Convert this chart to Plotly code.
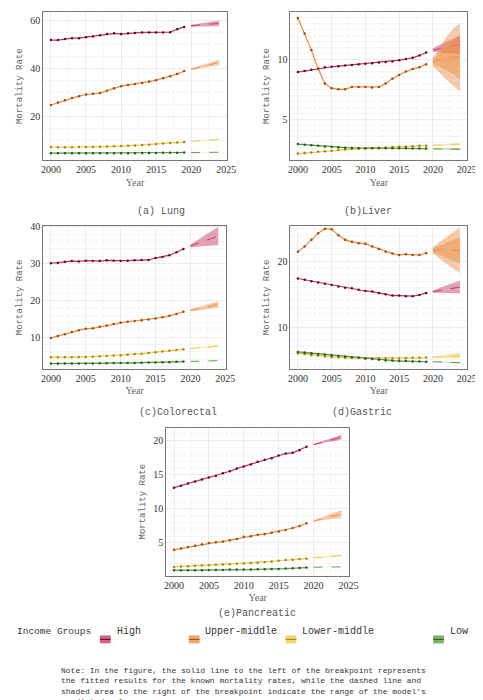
import plotly.graph_objects as go

YEARS = list(range(2000, 2020))
FYEARS = list(range(2020, 2025))
GROUPS = ["High", "Upper-middle", "Lower-middle", "Low"]
COLORS = {"High": "#c4305a", "Upper-middle": "#ec8a3e", "Lower-middle": "#e9c83e", "Low": "#4f9a3c"}
DOTS = {"High": "#5a1020", "Upper-middle": "#a04a10", "Lower-middle": "#a08a10", "Low": "#2a5a20"}

# fitted values 2000-2019, forecast mid 2020-2024, forecast half-widths (outer), inner half-widths
LUNG = {
    "High": [52.0,52.0,52.4,52.8,52.8,53.2,53.5,54.0,54.5,54.8,54.5,54.8,55.0,55.2,55.2,55.2,55.2,55.3,56.5,57.5],
    "Upper-middle": [24.8,25.8,26.8,27.7,28.5,29.2,29.5,29.8,30.8,31.8,32.7,33.2,33.6,34.0,34.6,35.2,36.0,36.8,37.8,39.0],
    "Lower-middle": [7.2,7.1,7.1,7.1,7.2,7.2,7.2,7.3,7.4,7.5,7.6,7.7,7.8,8.0,8.2,8.5,8.7,8.9,9.1,9.3],
    "Low": [4.6,4.6,4.6,4.6,4.6,4.6,4.6,4.6,4.6,4.6,4.6,4.6,4.6,4.7,4.7,4.7,4.8,4.8,4.8,4.9],
}
LUNG_F = {"High": [58.0,58.3,58.6,58.8,59.0], "Upper-middle": [39.8,40.5,41.3,42.0,42.7],
          "Lower-middle": [9.6,9.8,10.0,10.2,10.4], "Low": [4.9,4.9,4.9,5.0,5.0]}
LUNG_W = {"High": [0.4,0.6,0.8,1.0,1.2], "Upper-middle": [0.3,0.5,0.7,0.9,1.1],
          "Lower-middle": [0.05,0.1,0.1,0.15,0.2], "Low": [0.03,0.05,0.05,0.07,0.08]}

LIVER = {
    "High": [8.95,9.05,9.15,9.25,9.35,9.4,9.45,9.5,9.55,9.6,9.65,9.7,9.75,9.8,9.85,9.95,10.05,10.15,10.35,10.6],
    "Upper-middle": [13.5,12.2,10.8,9.2,8.0,7.6,7.5,7.5,7.7,7.7,7.7,7.65,7.7,8.0,8.4,8.7,9.0,9.2,9.35,9.6],
    "Lower-middle": [2.1,2.15,2.2,2.25,2.3,2.35,2.4,2.45,2.5,2.52,2.55,2.57,2.6,2.62,2.65,2.68,2.7,2.72,2.75,2.77],
    "Low": [2.9,2.85,2.8,2.75,2.7,2.67,2.63,2.6,2.58,2.56,2.55,2.55,2.55,2.55,2.55,2.55,2.54,2.53,2.52,2.52],
}
LIVER_F = {"High": [10.8,10.95,11.05,11.15,11.25], "Upper-middle": [9.8,10.0,10.1,10.2,10.2],
           "Lower-middle": [2.8,2.82,2.85,2.87,2.9], "Low": [2.5,2.5,2.49,2.48,2.47]}
LIVER_W = {"High": [0.15,0.3,0.45,0.6,0.75], "Upper-middle": [0.4,1.1,1.8,2.4,2.9],
           "Lower-middle": [0.03,0.05,0.07,0.08,0.1], "Low": [0.03,0.04,0.05,0.06,0.07]}
LIVER_WI = {"Upper-middle": [0.2,0.6,1.0,1.4,1.8]}

COLO = {
    "High": [30.1,30.2,30.5,30.7,30.6,30.8,30.7,30.7,30.9,30.8,30.7,30.8,30.9,31.0,31.0,31.5,31.8,32.3,33.1,34.0],
    "Upper-middle": [9.8,10.3,10.8,11.4,11.9,12.3,12.4,12.8,13.2,13.6,14.0,14.2,14.4,14.6,14.8,15.1,15.4,15.8,16.3,16.9],
    "Lower-middle": [4.5,4.5,4.5,4.5,4.6,4.6,4.7,4.8,4.9,5.0,5.0,5.2,5.4,5.5,5.7,5.9,6.1,6.3,6.5,6.7],
    "Low": [2.8,2.8,2.8,2.8,2.8,2.8,2.85,2.9,2.9,2.95,3.0,3.0,3.0,3.05,3.1,3.1,3.15,3.2,3.3,3.35],
}
COLO_F = {"High": [34.8,35.5,36.2,36.9,37.5], "Upper-middle": [17.3,17.7,18.1,18.5,18.9],
          "Lower-middle": [6.9,7.1,7.3,7.5,7.6], "Low": [3.4,3.45,3.5,3.55,3.6]}
COLO_W = {"High": [0.4,0.9,1.4,1.9,2.5], "Upper-middle": [0.3,0.4,0.6,0.7,0.9],
          "Lower-middle": [0.05,0.1,0.15,0.2,0.25], "Low": [0.03,0.04,0.05,0.06,0.07]}

GAST = {
    "High": [17.4,17.2,17.0,16.8,16.6,16.4,16.2,16.0,15.9,15.7,15.5,15.4,15.2,15.0,14.8,14.8,14.7,14.7,14.9,15.2],
    "Upper-middle": [21.5,22.3,23.3,24.3,25.0,24.9,24.0,23.3,23.0,22.8,22.7,22.3,21.9,21.5,21.2,21.0,21.1,21.0,21.0,21.3],
    "Lower-middle": [6.0,5.9,5.7,5.6,5.5,5.4,5.35,5.3,5.3,5.3,5.2,5.2,5.2,5.2,5.2,5.2,5.25,5.3,5.3,5.35],
    "Low": [6.2,6.1,6.0,5.9,5.8,5.7,5.6,5.5,5.4,5.3,5.2,5.1,5.0,4.9,4.85,4.8,4.8,4.75,4.75,4.7],
}
GAST_F = {"High": [15.4,15.6,15.8,16.0,16.1], "Upper-middle": [21.7,21.7,21.7,21.7,21.7],
          "Lower-middle": [5.4,5.45,5.5,5.55,5.6], "Low": [4.7,4.65,4.6,4.6,4.55]}
GAST_W = {"High": [0.2,0.4,0.6,0.8,1.0], "Upper-middle": [0.5,1.3,2.1,2.8,3.5],
          "Lower-middle": [0.1,0.2,0.25,0.3,0.4], "Low": [0.03,0.05,0.06,0.07,0.08]}
GAST_WI = {"Upper-middle": [0.3,0.8,1.2,1.6,2.0]}

PANC = {
    "High": [13.1,13.4,13.7,14.0,14.3,14.6,14.8,15.2,15.5,15.9,16.2,16.5,16.9,17.2,17.4,17.8,18.1,18.2,18.6,19.1],
    "Upper-middle": [4.0,4.2,4.4,4.6,4.8,5.0,5.1,5.2,5.4,5.6,5.9,6.0,6.2,6.3,6.5,6.7,6.9,7.2,7.5,7.9],
    "Lower-middle": [1.5,1.55,1.6,1.65,1.7,1.75,1.8,1.85,1.9,1.95,2.0,2.05,2.1,2.2,2.3,2.4,2.5,2.55,2.65,2.7],
    "Low": [1.0,1.0,1.0,1.0,1.0,1.05,1.05,1.05,1.1,1.1,1.1,1.1,1.15,1.15,1.2,1.2,1.25,1.3,1.35,1.4],
}
PANC_F = {"High": [19.4,19.7,20.0,20.2,20.5], "Upper-middle": [8.2,8.5,8.8,9.0,9.2],
          "Lower-middle": [2.8,2.9,3.0,3.1,3.2], "Low": [1.45,1.45,1.5,1.5,1.5]}
PANC_W = {"High": [0.1,0.15,0.2,0.3,0.35], "Upper-middle": [0.1,0.2,0.35,0.45,0.6],
          "Lower-middle": [0.03,0.05,0.07,0.08,0.1], "Low": [0.02,0.03,0.03,0.04,0.04]}

CAPTIONS = ["(a) Lung", "(b)Liver", "(c)Colorectal", "(d)Gastric", "(e)Pancreatic"]
W, H = 483, 700

PANELS = [
    (LUNG, LUNG_F, LUNG_W, {}, (34, 222, 0, 149), [1.7, 63.75], [20, 40, 60]),
    (LIVER, LIVER_F, LIVER_W, LIVER_WI, (287, 468, 0, 149), [1.55, 14.0], [5, 10]),
    (COLO, COLO_F, COLO_W, {}, (34, 221, 215, 359), [1.35, 40.3], [10, 20, 30, 40]),
    (GAST, GAST_F, GAST_W, GAST_WI, (287, 468, 215, 359), [3.6, 25.45], [10, 20]),
    (PANC, PANC_F, PANC_W, {}, (160, 347, 418, 567), [0.2, 21.9], [5, 10, 15, 20]),
]
CAP_POS = [(128, 193), (393, 193), (130, 403), (393, 403), (253, 612)]
LEG_POS = {"High": 92, "Upper-middle": 183, "Lower-middle": 282, "Low": 433}

def rgba(hexc, a):
    h = hexc.lstrip("#")
    return f"rgba({int(h[0:2],16)},{int(h[2:4],16)},{int(h[4:6],16)},{a})"

fig = go.Figure()
SERIF = "Liberation Serif"
MONO = "Liberation Mono"
layout = {}
for i, (fit, fc, wd, wdi, box, yr, yt) in enumerate(PANELS):
    n = "" if i == 0 else str(i + 1)
    xa, ya = "x" + n, "y" + n
    x0, x1, t, b = box
    layout["xaxis" + n] = dict(domain=[x0 / W, x1 / W], anchor=ya, range=[1998.9, 2025.1],
                               tickvals=[2000, 2005, 2010, 2015, 2020, 2025],
                               title=dict(text="Year", standoff=4, font=dict(size=10, family=SERIF, color="#666")),
                               showgrid=True, gridcolor="#ececec", gridwidth=1, minor=dict(showgrid=True, gridcolor="#f6f6f6", dtick=2.5),
                               showline=True, linecolor="#777", mirror=True, ticks="",
                               tickfont=dict(size=10, family=SERIF, color="#333"), zeroline=False)
    layout["yaxis" + n] = dict(domain=[1 - b / H, 1 - t / H], anchor=xa, range=yr, tickvals=yt,
                               title=dict(text="Mortality Rate", standoff=6, font=dict(size=9, family=MONO, color="#666")),
                               showgrid=True, gridcolor="#ececec", minor=dict(showgrid=True, gridcolor="#f6f6f6"),
                               showline=True, linecolor="#777", mirror=True, ticks="",
                               tickfont=dict(size=10, family=SERIF, color="#333"), zeroline=False)
    for g in GROUPS:
        c = COLORS[g]
        mid = fc[g]
        bands = [(wd[g], 0.45)]
        if g in wdi:
            bands.append((wdi[g], 0.45))
        for w_, a in bands:
            hi = [m + w for m, w in zip(mid, w_)]
            lo = [m - w for m, w in zip(mid, w_)]
            fig.add_trace(go.Scatter(x=FYEARS + FYEARS[::-1], y=hi + lo[::-1], fill="toself",
                                     fillcolor=rgba(c, a), line=dict(width=0), mode="lines",
                                     xaxis=xa, yaxis=ya, showlegend=False, hoverinfo="skip"))
        fig.add_trace(go.Scatter(x=FYEARS, y=mid, mode="lines", line=dict(color=rgba(c, 0.9), width=1, dash="dash"),
                                 xaxis=xa, yaxis=ya, showlegend=False))
        fig.add_trace(go.Scatter(x=YEARS, y=fit[g], mode="lines+markers", name=g,
                                 line=dict(color=c, width=1.2), marker=dict(size=2.5, color=DOTS[g]),
                                 xaxis=xa, yaxis=ya, showlegend=False))

ann, shapes = [], []
for cap, (cx, cy) in zip(CAPTIONS, CAP_POS):
    ann.append(dict(text=cap, x=cx / W, y=1 - cy / H, xref="paper", yref="paper", showarrow=False,
                    font=dict(size=10, family=MONO, color="#555")))
LY = 631
ann.append(dict(text="Income Groups", x=5 / W, y=1 - LY / H, xref="paper", yref="paper", showarrow=False,
                xanchor="left", font=dict(size=9.5, family=MONO, color="#333")))
for g in GROUPS:
    lx = LEG_POS[g]
    shapes.append(dict(type="rect", xref="paper", yref="paper", x0=lx / W, x1=(lx + 11) / W,
                       y0=1 - (LY + 4) / H, y1=1 - (LY - 4) / H, fillcolor=rgba(COLORS[g], 0.75), line=dict(width=0)))
    shapes.append(dict(type="line", xref="paper", yref="paper", x0=lx / W, x1=(lx + 11) / W,
                       y0=1 - LY / H, y1=1 - LY / H, line=dict(color=DOTS[g], width=1)))
    ann.append(dict(text=g, x=(lx + 15) / W, y=1 - LY / H, xref="paper", yref="paper", showarrow=False,
                    xanchor="left", font=dict(size=10, family=MONO, color="#333")))
NOTE = ("Note: In the figure, the solid line to the left of the breakpoint represents<br>"
        "the fitted results for the known mortality rates, while the dashed line and<br>"
        "shaded area to the right of the breakpoint indicate the range of the model's<br>"
        "predicted values.")
ann.append(dict(text=NOTE, x=50 / W, y=1 - 656 / H, xref="paper", yref="paper", showarrow=False,
                xanchor="left", yanchor="top", align="left", font=dict(size=8, family=MONO, color="#333")))

fig.update_layout(width=W, height=H, margin=dict(l=0, r=0, t=0, b=0), plot_bgcolor="white",
                  paper_bgcolor="white", annotations=ann, shapes=shapes, showlegend=False,
                  **layout)
fig.write_html("out.html")
